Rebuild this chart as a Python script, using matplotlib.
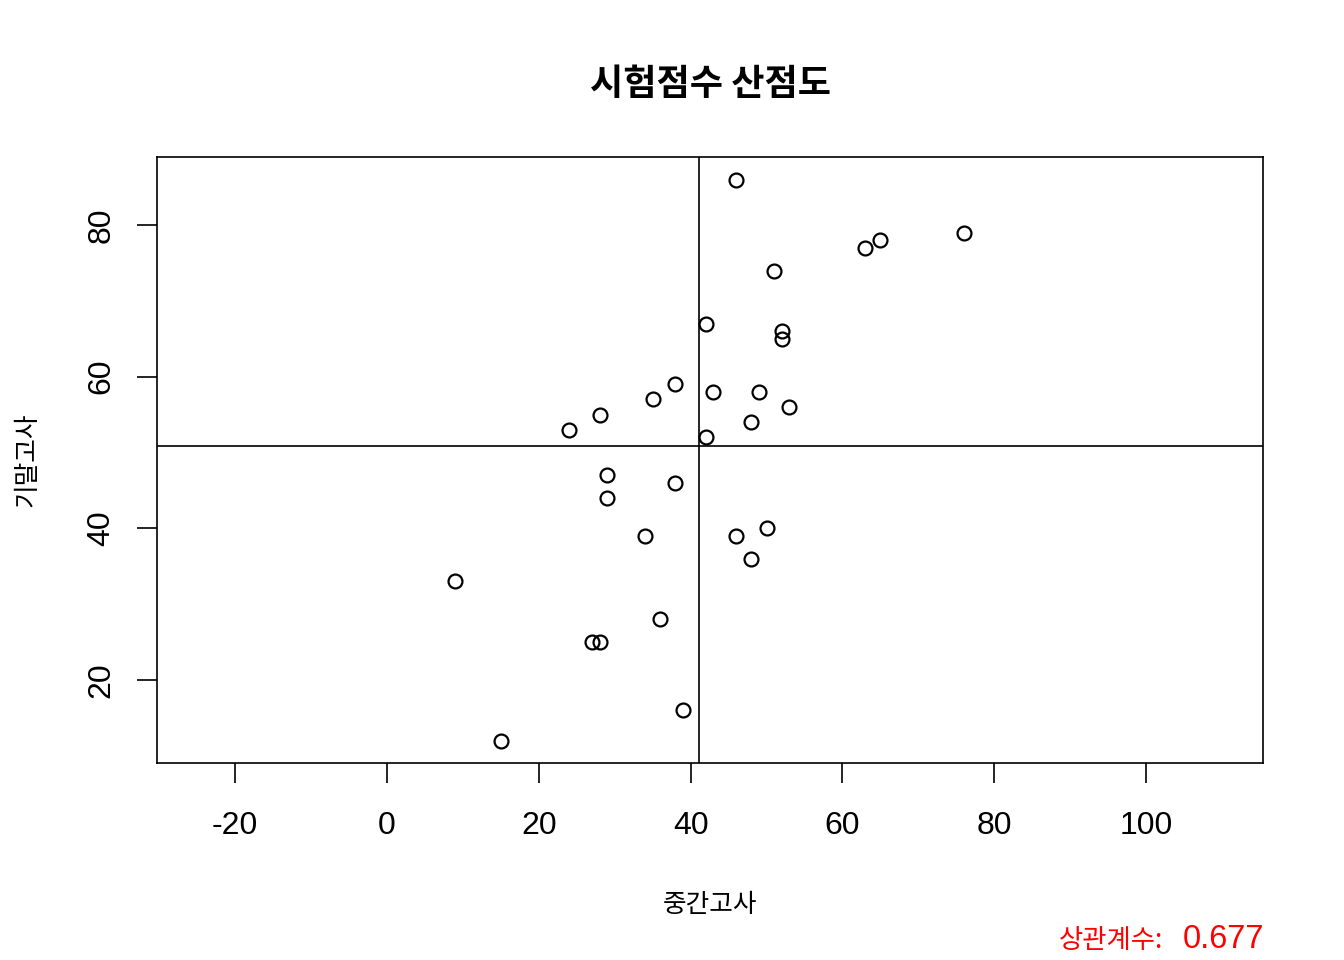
import numpy as np
import matplotlib
matplotlib.use("Agg")
import matplotlib.pyplot as plt

plt.rcParams['font.family'] = ['Liberation Sans', 'Noto Sans CJK KR', 'DejaVu Sans']
plt.rcParams['axes.unicode_minus'] = False

# 중간고사 / 기말고사 점수
mid = [46, 63, 65, 76, 51, 42, 52, 52, 38, 43, 49, 35, 53, 28, 48,
       24, 42, 29, 38, 29, 50, 34, 46, 48, 9, 36, 27, 28, 39, 15]
fin = [86, 77, 78, 79, 74, 67, 66, 65, 59, 58, 58, 57, 56, 55, 54,
       53, 52, 47, 46, 44, 40, 39, 39, 36, 33, 28, 25, 25, 16, 12]
xticks = [-20, 0, 20, 40, 60, 80, 100]
yticks = [20, 40, 60, 80]
title = '시험점수 산점도'
xlab = '중간고사'
ylab = '기말고사'
cor_label = '상관계수:'
cor_value = '0.677'

W, H = 1344, 960
fig = plt.figure(figsize=(W / 100, H / 100), dpi=100)
ax = fig.add_axes([157 / W, 1 - 763 / H, (1263 - 157) / W, (763 - 157) / H])

ax.plot(mid, fin, 'o', mfc='none', mec='black', ms=10, mew=1.6)
ax.axhline(np.mean(fin), color='black', lw=1.2)
ax.axvline(np.mean(mid), color='black', lw=1.2)

ax.set_xlim(-30.3, 115.4)
ax.set_ylim(9.05, 88.97)
ax.set_xticks(xticks)
ax.set_yticks(yticks)
ax.tick_params(length=14.4, width=1.2, labelsize=23)
ax.tick_params(axis='x', pad=20)
ax.tick_params(axis='y', pad=15)
for lab in ax.get_yticklabels():
    lab.set_rotation(90)
    lab.set_va('center')
for s in ax.spines.values():
    s.set_linewidth(1.2)

fig.text(711 / W, 1 - 84 / H, title, ha='center', va='center',
         fontsize=26, fontweight='bold', family=['Noto Sans CJK KR'])
fig.text(710 / W, 1 - 905 / H, xlab, ha='center', va='center', fontsize=18.5,
         family=['Noto Sans CJK KR'])
fig.text(27 / W, 1 - 460 / H, ylab, ha='center', va='center', fontsize=18.5,
         rotation=90, family=['Noto Sans CJK KR'])
fig.text(1163 / W, 1 - 948 / H, cor_label, ha='right', va='baseline',
         fontsize=19, color='red', family=['Noto Sans CJK KR'])
fig.text(1183 / W, 1 - 948 / H, cor_value, ha='left', va='baseline',
         fontsize=23.5, color='red')

fig.savefig('out.png', dpi=100)
